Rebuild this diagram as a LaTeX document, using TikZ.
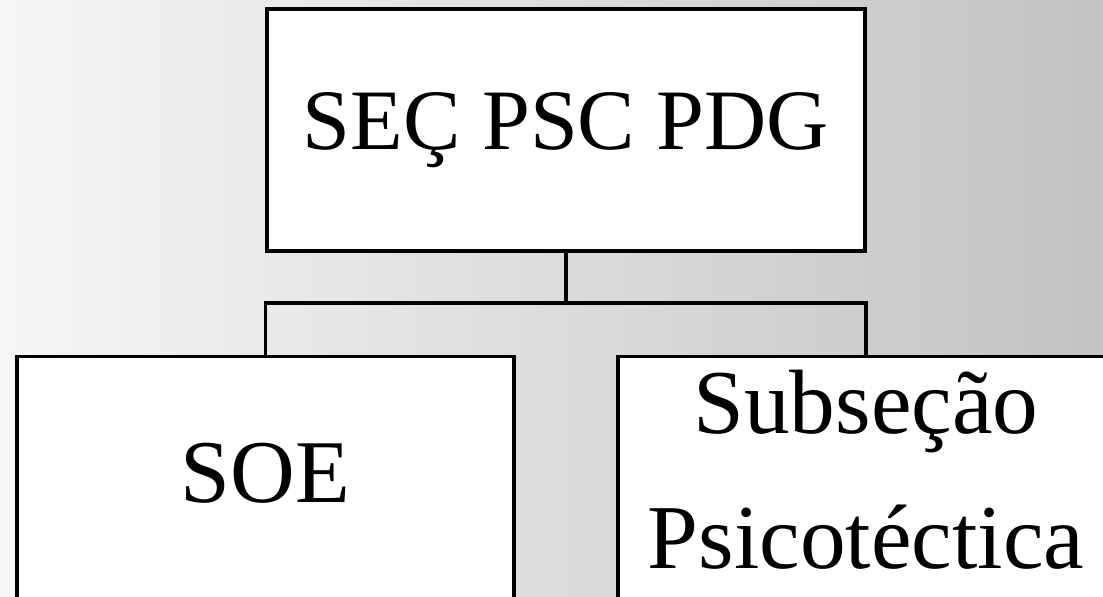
\documentclass[tikz,border=0pt]{standalone}
\usepackage{fontspec}
\setmainfont{Liberation Serif}
\usepackage{tikz}
\usetikzlibrary{positioning}
\definecolor{bgleft}{HTML}{F6F6F6}
\definecolor{bgright}{HTML}{C2C2C2}

\begin{document}
\begin{tikzpicture}[x=0.02cm, y=-0.02cm, line width=2pt]
    \tikzstyle{box} = [draw, fill=white, text centered, align=center, inner sep=0pt]
    \path[use as bounding box, clip] (0,0) rectangle (1103,596);
    \shade[left color=bgleft, right color=bgright] (0,0) rectangle (1103,596);
    \node [box, minimum width=11.96cm, minimum height=4.84cm,
        font=\fontsize{49}{58}\selectfont] at (566,130) (sec) {SEÇ PSC PDG};
    \node [box, below=2.04cm of sec, xshift=-6.01cm, minimum width=9.94cm,
        minimum height=4.9cm, text depth=0.24cm, font=\fontsize{51}{60}\selectfont] (soe) {SOE};
    \node [box, below=2.04cm of sec, xshift=6cm, minimum width=9.92cm,
        minimum height=4.9cm, text depth=0.4cm, font=\fontsize{52}{77}\selectfont] (sub) {Subseção\\Psicotéctica};
    \coordinate (fork) at (566,303);
    \draw (sec.south) -- (fork);
    \draw (soe.north) |- (fork) -| (sub.north);
\end{tikzpicture}
\end{document}
